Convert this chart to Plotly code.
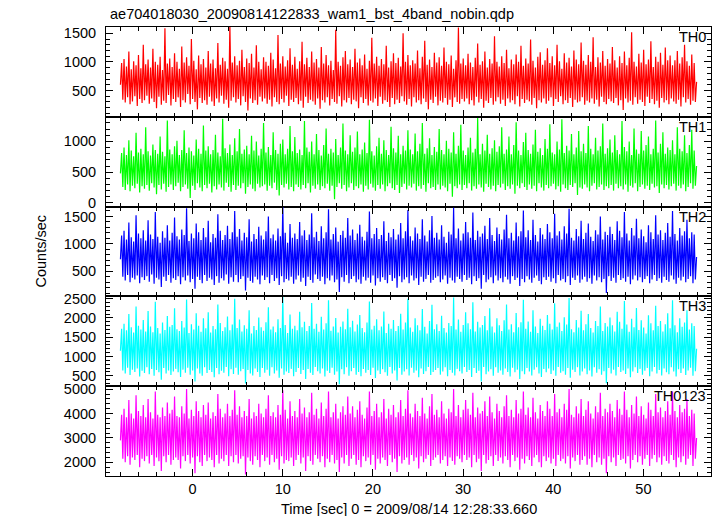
import numpy as np
import plotly.graph_objects as go
from plotly.subplots import make_subplots

TITLE = "ae704018030_20090814122833_wam1_bst_4band_nobin.qdp"
X_TITLE = "Time [sec] 0 = 2009/08/14 12:28:33.660"
Y_TITLE = "Counts/sec"
T_START, T_STOP = -8.0, 55.9

band_names = ["TH0", "TH1", "TH2", "TH3", "TH0123"]
band_colors = ["#ff0000", "#00ff00", "#0000ff", "#00ffff", "#ff00ff"]

th0 = [
    600, 980, 340, 1050, 290, 920, 380, 1180, 260, 870, 310, 1010, 400, 940, 230, 1120, 350, 890, 280, 1300, 330, 960, 410, 1040,
    270, 900, 360, 1230, 300, 1000, 190, 950, 390, 1090, 250, 860, 320, 1590, 280, 970, 420, 1060, 240, 910, 350, 1150, 300, 1000,
    380, 880, 210, 1270, 330, 990, 290, 1080, 440, 930, 260, 1400, 350, 1020, 300, 870, 170, 1110, 370, 960, 280, 1050, 330, 900,
    250, 1190, 390, 970, 310, 1040, 230, 890, 360, 1330, 290, 950, 410, 1070, 270, 1010, 340, 880, 200, 1650, 320, 990, 380, 1100,
    290, 940, 350, 1020, 240, 1210, 400, 910, 300, 1060, 150, 980, 360, 1140, 280, 900, 330, 1290, 250, 1000, 390, 870, 310, 1080,
    360, 1000, 270, 930, 340, 1160, 220, 1040, 380, 890, 300, 1470, 260, 970, 350, 1100, 290, 920, 410, 1030, 230, 1240, 340, 950,
    300, 1090, 370, 880, 260, 1010, 320, 1350, 200, 960, 390, 1070, 280, 910, 340, 1180, 310, 990, 250, 1050, 360, 900, 180, 1260,
    330, 970, 290, 1120, 380, 940, 240, 1020, 350, 860, 300, 1560, 270, 1000, 400, 930, 220, 1080, 330, 1190, 290, 960, 370, 1040,
    260, 910, 340, 1230, 310, 990, 190, 1060, 380, 940, 280, 1130, 350, 880, 240, 1020, 320, 1420, 290, 970, 360, 1090, 230, 930,
    390, 1050, 270, 960, 330, 1280, 300, 900, 210, 1010, 370, 1150, 260, 980, 340, 1070, 280, 920, 400, 1500, 310, 1000, 250, 1120,
    350, 940, 220, 1030, 380, 970, 290, 1200, 330, 890, 260, 1090, 360, 1370, 300, 950, 170, 1040, 340, 910, 280, 1160, 390, 990,
    240, 1080, 320, 930, 290, 1250, 370, 1000, 250, 960, 340, 1110, 210, 880, 380, 1030, 300, 1600, 270, 970, 350, 1060, 310, 940,
    360, 1140, 260, 990, 330, 910, 240, 1070, 390, 1320, 290, 950, 350, 1010, 200, 1180, 320, 900, 280, 1050, 370, 970, 250, 1450,
    310, 1000, 380, 920, 270, 1100, 340, 980, 230, 1210, 360, 890, 290, 1040, 330, 960, 260, 1130, 400, 1000, 220, 1280, 350, 930,
    280, 1060, 340, 970, 310, 1390, 250, 1020, 370, 900, 190, 1090, 330, 1170, 290, 950, 360, 1030, 270, 1240, 320, 980, 380, 1100,
    230, 940, 350, 1300, 300, 1010, 400, 880, 260, 1150, 330, 990, 280, 1070, 370, 920, 210, 1200, 340, 1040, 290, 960, 310, 1340,
    380, 1020, 250, 950, 320, 1120, 290, 1000, 360, 1430, 270, 910, 340, 1080, 220, 990, 390, 1190, 300, 930, 260, 1050, 350, 970,
    310, 1260, 280, 1030, 370, 900, 240, 1100, 330, 980, 160, 1180, 360, 940, 290, 1070, 320, 1520, 250, 1000, 380, 920, 270, 1140,
    340, 990, 300, 1210, 230, 960, 390, 1040, 280, 1360, 350, 910, 260, 1090, 320, 1000, 200, 1160, 370, 950, 290, 1250, 330, 1030,
    260, 1110, 360, 940, 310, 1030, 270, 1190, 340, 970, 220, 1080, 380, 1300, 290, 1010, 350, 930, 250, 1130, 320, 980, 300, 650,
]
th1 = [
    480, 810, 260, 900, 210, 780, 300, 1020, 190, 850, 280, 760, 240, 1140, 310, 820, 170, 880, 270, 790, 230, 1230, 290, 840,
    200, 770, 320, 950, 250, 860, 140, 800, 290, 1080, 220, 830, 310, 760, 180, 1340, 260, 870, 300, 790, 210, 920, 270, 1010,
    330, 780, 190, 860, 260, 1180, 300, 810, 230, 900, 80, 840, 280, 770, 210, 1030, 320, 880, 250, 800, 190, 1260, 290, 850,
    240, 920, 310, 790, 170, 860, 270, 1110, 220, 820, 300, 760, 250, 1370, 200, 890, 330, 810, 260, 950, 180, 780, 290, 1050,
    210, 840, 280, 1200, 240, 800, 320, 870, 150, 930, 260, 790, 300, 1090, 230, 850, 190, 1000, 310, 770, 250, 880, 270, 1300,
    300, 820, 200, 910, 280, 780, 240, 1150, 330, 860, 210, 800, 120, 960, 290, 1030, 250, 790, 310, 880, 220, 1250, 260, 840,
    190, 1070, 300, 810, 260, 870, 220, 780, 290, 1330, 240, 900, 320, 830, 170, 1000, 280, 790, 230, 1120, 300, 860, 210, 770,
    270, 940, 240, 1210, 310, 800, 200, 880, 280, 820, 60, 1040, 260, 780, 320, 900, 230, 1290, 290, 850, 190, 790, 250, 1100,
    320, 830, 210, 900, 270, 1160, 240, 790, 300, 870, 180, 980, 280, 810, 220, 1350, 310, 840, 250, 770, 200, 920, 290, 1060,
    230, 800, 300, 1020, 190, 860, 270, 780, 320, 1240, 240, 890, 210, 820, 290, 1090, 160, 790, 260, 930, 310, 850, 220, 1180,
    280, 870, 250, 790, 310, 1130, 200, 840, 270, 960, 230, 1300, 290, 800, 180, 890, 320, 1050, 240, 780, 260, 910, 210, 830,
    300, 1200, 220, 860, 280, 790, 250, 1010, 190, 880, 310, 820, 100, 1150, 270, 800, 240, 930, 300, 1270, 210, 850, 290, 780,
    240, 900, 320, 1060, 200, 820, 270, 880, 230, 1380, 300, 790, 250, 960, 180, 850, 310, 1110, 260, 800, 220, 890, 280, 1020,
    190, 830, 290, 920, 250, 1230, 310, 800, 210, 870, 270, 1080, 230, 790, 300, 940, 150, 1310, 280, 850, 240, 780, 320, 990,
    260, 1140, 210, 860, 300, 800, 230, 950, 280, 1190, 190, 830, 320, 890, 250, 780, 200, 1040, 290, 880, 240, 1280, 270, 820,
    310, 790, 220, 1000, 270, 870, 180, 1360, 300, 810, 240, 930, 210, 850, 290, 1120, 260, 790, 320, 900, 130, 1170, 250, 840,
    230, 960, 300, 810, 250, 1250, 190, 880, 280, 790, 320, 1060, 220, 850, 260, 920, 300, 1290, 210, 800, 270, 890, 240, 1030,
    290, 820, 200, 1100, 310, 860, 240, 790, 270, 1330, 220, 910, 300, 840, 180, 1000, 280, 780, 250, 1210, 320, 870, 190, 800,
    260, 1170, 300, 850, 230, 940, 280, 1080, 210, 790, 310, 880, 250, 1340, 270, 820, 160, 960, 300, 1150, 240, 800, 290, 900,
    220, 860, 270, 1020, 310, 790, 200, 1230, 280, 880, 240, 840, 300, 1100, 190, 810, 260, 940, 320, 1190, 230, 850, 280, 600,
]
th2 = [
    720, 1150, 400, 1240, 330, 1080, 430, 1390, 300, 1120, 380, 1040, 350, 1520, 420, 1190, 280, 1100, 390, 1250, 340, 1060, 410, 1430,
    310, 1170, 440, 1090, 270, 1580, 380, 1130, 350, 1020, 210, 1230, 400, 1110, 320, 1340, 430, 1060, 290, 1200, 370, 1480, 340, 1140,
    410, 1080, 260, 1260, 390, 1160, 330, 1650, 420, 1050, 300, 1190, 360, 1100, 180, 1370, 400, 1210, 340, 1070, 280, 1290, 430, 1120,
    320, 1420, 380, 1030, 350, 1180, 250, 1110, 410, 1540, 290, 1240, 370, 1070, 330, 1160, 440, 1330, 270, 1090, 390, 1210, 310, 1600,
    430, 1130, 300, 1270, 360, 1060, 410, 1200, 150, 1120, 380, 1450, 320, 1040, 290, 1180, 400, 1090, 350, 1310, 260, 1150, 420, 1080,
    340, 1230, 390, 1500, 280, 1100, 430, 1170, 320, 1060, 370, 1280, 250, 1140, 410, 1680, 300, 1200, 360, 1020, 330, 1360, 400, 1110,
    270, 1190, 350, 1090, 420, 1400, 310, 1150, 380, 1250, 230, 1070, 400, 1170, 340, 1560, 290, 1120, 440, 1220, 360, 1050, 320, 1320,
    400, 1100, 260, 1210, 370, 1630, 330, 1080, 420, 1180, 300, 1300, 350, 1040, 120, 1160, 390, 1240, 310, 1110, 430, 1470, 280, 1150,
    360, 1260, 410, 1070, 300, 1190, 350, 1350, 270, 1130, 400, 1060, 330, 1220, 380, 1590, 290, 1100, 420, 1180, 240, 1290, 370, 1090,
    310, 1160, 390, 1410, 340, 1050, 280, 1200, 430, 1120, 320, 1270, 370, 1080, 200, 1170, 410, 1380, 300, 1100, 350, 1230, 390, 1620,
    280, 1140, 420, 1060, 330, 1300, 370, 1190, 250, 1090, 400, 1450, 310, 1150, 360, 1040, 430, 1250, 290, 1510, 340, 1110, 380, 1200,
    410, 1080, 300, 1340, 350, 1130, 420, 1020, 270, 1220, 380, 1170, 330, 1660, 290, 1100, 400, 1280, 360, 1060, 310, 1190, 430, 1400,
    340, 1210, 380, 1110, 260, 1570, 410, 1070, 320, 1240, 370, 1130, 180, 1190, 430, 1330, 300, 1090, 350, 1470, 390, 1160, 280, 1050,
    420, 1300, 330, 1180, 370, 1080, 300, 1260, 400, 1530, 350, 1100, 270, 1200, 410, 1060, 340, 1390, 380, 1140, 230, 1230, 360, 1610,
    300, 1120, 410, 1250, 350, 1070, 290, 1440, 380, 1160, 420, 1040, 320, 1290, 260, 1170, 390, 1090, 340, 1360, 400, 1210, 310, 1100,
    370, 1550, 280, 1150, 430, 1230, 330, 1080, 360, 1320, 300, 1190, 410, 1640, 250, 1110, 380, 1060, 340, 1270, 420, 1140, 290, 1420,
    350, 1090, 400, 1200, 310, 1370, 370, 1130, 270, 1050, 420, 1250, 330, 1170, 390, 1500, 300, 1080, 360, 1220, 100, 1160, 410, 1310,
    320, 1180, 380, 1070, 290, 1410, 430, 1240, 340, 1120, 370, 1580, 310, 1190, 400, 1060, 260, 1290, 350, 1150, 420, 1460, 330, 1100,
    390, 1260, 300, 1140, 360, 1030, 410, 1340, 280, 1210, 350, 1090, 430, 1520, 320, 1170, 370, 1250, 290, 1070, 400, 1200, 340, 1380,
    310, 1130, 420, 1600, 350, 1180, 270, 1060, 380, 1290, 330, 1150, 400, 1230, 300, 1440, 360, 1100, 410, 1210, 280, 1170, 350, 760,
]
th3 = [
    1150, 1720, 640, 1850, 560, 1680, 710, 2100, 520, 1760, 660, 1620, 600, 2300, 690, 1800, 480, 1700, 630, 1950, 570, 1650, 720, 2180,
    540, 1780, 680, 1630, 500, 2420, 650, 1740, 590, 1600, 400, 1880, 700, 1690, 560, 2050, 640, 1770, 520, 1820, 610, 2250, 680, 1710,
    590, 1660, 470, 1920, 660, 1750, 580, 2480, 710, 1610, 530, 1840, 640, 1700, 350, 2120, 690, 1800, 560, 1640, 500, 1990, 720, 1730,
    570, 2150, 650, 1620, 600, 1790, 460, 1710, 700, 2350, 540, 1870, 630, 1660, 580, 1760, 730, 2040, 490, 1680, 670, 1830, 550, 2500,
    710, 1740, 530, 1960, 620, 1650, 680, 1810, 300, 1720, 650, 2200, 560, 1600, 510, 1790, 690, 1690, 600, 2010, 470, 1760, 700, 1670,
    580, 1890, 660, 2280, 500, 1700, 720, 1780, 560, 1630, 640, 1970, 450, 1740, 690, 2550, 530, 1820, 610, 1610, 570, 2090, 680, 1720,
    490, 1800, 600, 1680, 700, 2160, 550, 1760, 650, 1900, 420, 1660, 680, 1790, 580, 2390, 520, 1720, 730, 1850, 620, 1640, 560, 2030,
    690, 1700, 480, 1860, 630, 2460, 570, 1670, 710, 1780, 530, 2000, 610, 1620, 280, 1770, 670, 1910, 540, 1710, 720, 2240, 500, 1760,
    620, 1930, 700, 1650, 530, 1830, 600, 2080, 490, 1740, 680, 1630, 580, 1880, 650, 2430, 520, 1700, 710, 1800, 440, 1970, 640, 1680,
    550, 1780, 670, 2170, 590, 1610, 500, 1850, 730, 1720, 560, 1950, 640, 1660, 380, 1790, 700, 2110, 530, 1700, 610, 1880, 670, 2500,
    510, 1750, 710, 1640, 580, 1990, 640, 1810, 460, 1680, 690, 2230, 550, 1770, 620, 1600, 730, 1920, 520, 2340, 600, 1710, 650, 1840,
    700, 1660, 530, 2060, 610, 1740, 720, 1620, 490, 1870, 650, 1790, 580, 2530, 510, 1700, 680, 1960, 620, 1640, 560, 1820, 730, 2150,
    600, 1860, 650, 1710, 470, 2410, 700, 1650, 570, 1900, 630, 1750, 350, 1820, 730, 2050, 540, 1680, 610, 2250, 670, 1780, 500, 1620,
    720, 1990, 580, 1810, 640, 1660, 530, 1940, 690, 2350, 600, 1700, 480, 1840, 710, 1630, 590, 2130, 660, 1760, 420, 1890, 620, 2470,
    540, 1720, 700, 1910, 610, 1640, 510, 2200, 660, 1780, 720, 1610, 560, 1980, 470, 1800, 680, 1690, 590, 2080, 690, 1850, 550, 1700,
    640, 2380, 500, 1770, 730, 1880, 580, 1660, 620, 2020, 530, 1830, 700, 2520, 450, 1710, 660, 1630, 600, 1950, 720, 1750, 510, 2190,
    610, 1680, 690, 1840, 540, 2100, 640, 1740, 480, 1620, 720, 1920, 580, 1790, 670, 2300, 530, 1660, 620, 1870, 310, 1780, 700, 2010,
    560, 1810, 660, 1650, 510, 2160, 730, 1900, 600, 1720, 640, 2440, 550, 1830, 690, 1640, 460, 1980, 610, 1760, 720, 2260, 570, 1690,
    680, 1940, 530, 1750, 630, 1600, 700, 2070, 490, 1860, 610, 1680, 730, 2320, 560, 1790, 650, 1920, 510, 1650, 690, 1840, 590, 2120,
    540, 1730, 720, 2460, 610, 1810, 480, 1630, 670, 1990, 570, 1770, 690, 1880, 520, 2200, 640, 1700, 710, 1860, 500, 1790, 620, 1200,
]
th0123 = [
    2900, 3950, 2150, 4200, 2000, 3850, 2250, 4550, 1900, 4000, 2200, 3800, 2100, 4750, 2300, 4100, 1800, 3900, 2150, 4350, 2050, 3850, 2250, 4600,
    1950, 4050, 2300, 3800, 1850, 4900, 2200, 3950, 2050, 3850, 1650, 4250, 2250, 3900, 2000, 4450, 2300, 4000, 1900, 4150, 2100, 4700, 2200, 3900,
    2100, 3850, 1750, 4300, 2250, 4000, 2050, 5000, 2300, 3800, 1950, 4150, 2200, 3900, 1550, 4500, 2250, 4100, 2000, 3850, 1850, 4350, 2300, 3950,
    2050, 4450, 2200, 3800, 2100, 4050, 1800, 3900, 2300, 4800, 1950, 4200, 2150, 3850, 2050, 4000, 2300, 4400, 1850, 3900, 2250, 4150, 2000, 4950,
    2300, 3950, 1950, 4300, 2150, 3850, 2250, 4100, 1500, 3900, 2200, 4600, 2050, 3800, 1900, 4050, 2250, 3900, 2100, 4400, 1800, 4000, 2300, 3850,
    2050, 4200, 2200, 4750, 1900, 3900, 2300, 4050, 2000, 3850, 2150, 4350, 1700, 3950, 2250, 4950, 1950, 4150, 2100, 3800, 2050, 4500, 2200, 3900,
    1850, 4100, 2100, 3850, 2300, 4600, 1950, 4000, 2200, 4250, 1650, 3850, 2250, 4050, 2050, 4850, 1900, 3950, 2300, 4200, 2150, 3800, 2000, 4450,
    2250, 3900, 1800, 4200, 2150, 4900, 2000, 3850, 2300, 4050, 1950, 4400, 2100, 3800, 1600, 4050, 2200, 4300, 1950, 3950, 2300, 4700, 1850, 4000,
    2150, 4300, 2300, 3850, 1900, 4150, 2100, 4500, 1800, 3950, 2250, 3800, 2050, 4250, 2200, 4900, 1900, 3900, 2300, 4100, 1700, 4400, 2150, 3850,
    1950, 4050, 2200, 4600, 2100, 3800, 1850, 4200, 2300, 3950, 2000, 4350, 2150, 3850, 1600, 4050, 2250, 4550, 1950, 3900, 2100, 4200, 2200, 4950,
    1900, 4000, 2300, 3850, 2050, 4400, 2200, 4100, 1750, 3900, 2250, 4650, 2000, 4000, 2150, 3800, 2300, 4300, 1850, 4800, 2100, 3950, 2200, 4150,
    2300, 3850, 1950, 4500, 2100, 4000, 2250, 3800, 1850, 4200, 2200, 4050, 2050, 5000, 1900, 3900, 2250, 4350, 2150, 3850, 2000, 4150, 2300, 4550,
    2100, 4200, 2200, 3950, 1800, 4850, 2300, 3850, 2000, 4250, 2150, 4000, 1650, 4100, 2300, 4500, 1950, 3900, 2100, 4700, 2250, 4050, 1850, 3800,
    2300, 4400, 2050, 4100, 2200, 3850, 1950, 4300, 2250, 4750, 2100, 3900, 1800, 4150, 2300, 3850, 2050, 4550, 2200, 4000, 1700, 4200, 2150, 4900,
    1950, 3950, 2250, 4250, 2100, 3850, 1850, 4650, 2200, 4050, 2300, 3800, 2000, 4350, 1800, 4100, 2250, 3900, 2050, 4500, 2200, 4200, 1950, 3900,
    2150, 4800, 1850, 4050, 2300, 4200, 2050, 3850, 2150, 4400, 1950, 4150, 2250, 5000, 1750, 3950, 2200, 3850, 2050, 4300, 2300, 4000, 1900, 4600,
    2100, 3900, 2250, 4150, 1900, 4500, 2150, 4000, 1800, 3800, 2300, 4300, 2000, 4050, 2200, 4850, 1900, 3900, 2150, 4200, 1550, 4050, 2250, 4400,
    2000, 4100, 2200, 3850, 1850, 4550, 2300, 4200, 2100, 3950, 2150, 4900, 1950, 4150, 2250, 3850, 1750, 4350, 2100, 4000, 2300, 4700, 2000, 3900,
    2250, 4300, 1900, 3950, 2150, 3800, 2300, 4450, 1850, 4150, 2150, 3900, 2300, 4800, 2000, 4050, 2200, 4250, 1900, 3850, 2250, 4100, 2050, 4500,
    1950, 3950, 2300, 4900, 2100, 4100, 1800, 3850, 2200, 4350, 2000, 4050, 2250, 4200, 1900, 4600, 2150, 3900, 2300, 4150, 1850, 4000, 2150, 3000,
]

series = [th0, th1, th2, th3, th0123]
y_ranges = [[40, 1610], [-60, 1400], [40, 1680], [230, 2560], [1440, 5120]]
y_dticks = [500, 500, 500, 500, 1000]
y_minor = [100, 100, 100, 100, 200]
x_range = [-9.6, 57.5]

FONT = "Liberation Sans, Arial, Helvetica, sans-serif"

fig = make_subplots(rows=5, cols=1, shared_xaxes=True, vertical_spacing=0)

for i, (name, col, vals) in enumerate(zip(band_names, band_colors, series)):
    t = np.linspace(T_START, T_STOP, len(vals))
    fig.add_trace(go.Scatter(x=t, y=vals, mode="lines",
                             line=dict(color=col, width=1.2, simplify=False),
                             showlegend=False, hoverinfo="skip"), row=i + 1, col=1)
    fig.update_yaxes(range=y_ranges[i], dtick=y_dticks[i], tick0=0,
                     ticks="inside", ticklen=7, tickwidth=1, tickcolor="black",
                     minor=dict(dtick=y_minor[i], ticklen=4, ticks="inside", tickcolor="black"),
                     showline=True, linecolor="black", linewidth=1, mirror="ticks",
                     showgrid=False, zeroline=False, ticklabelstandoff=6,
                     tickfont=dict(size=14.5, color="black", family=FONT),
                     row=i + 1, col=1)
    fig.update_xaxes(range=x_range, dtick=10, tick0=0,
                     ticks="inside", ticklen=7, tickwidth=1, tickcolor="black",
                     minor=dict(dtick=2, ticklen=4, ticks="inside", tickcolor="black"),
                     showline=True, linecolor="black", linewidth=1, mirror="ticks",
                     showgrid=False, zeroline=False,
                     tickfont=dict(size=14.5, color="black", family=FONT),
                     row=i + 1, col=1)
    ydom = "y domain" if i == 0 else f"y{i + 1} domain"
    fig.add_annotation(text=name, xref="paper", yref=ydom, x=1, y=1, xanchor="right",
                       yanchor="top", xshift=-3, yshift=0, showarrow=False,
                       font=dict(size=14.5, color="black", family=FONT))

fig.add_annotation(text=TITLE, xref="paper", yref="paper", x=0, y=1, xanchor="left",
                   yanchor="bottom", xshift=2, yshift=3, showarrow=False,
                   font=dict(size=14.5, color="black", family=FONT))
fig.add_annotation(text=X_TITLE, xref="paper", yref="paper", x=0.5, y=0, xanchor="center",
                   yanchor="top", yshift=-23, showarrow=False,
                   font=dict(size=14.5, color="black", family=FONT))
fig.add_annotation(text=Y_TITLE, xref="paper", yref="paper", x=0, y=0.5, xanchor="center",
                   yanchor="middle", xshift=-66, textangle=-90, showarrow=False,
                   font=dict(size=14.5, color="black", family=FONT))

fig.update_layout(width=717, height=516, margin=dict(l=106, r=6, t=27, b=40),
                  paper_bgcolor="white", plot_bgcolor="white",
                  font=dict(family=FONT, color="black"))

fig.write_html("out.html", config={"displayModeBar": False},
               post_script="document.body.style.margin='0';")
